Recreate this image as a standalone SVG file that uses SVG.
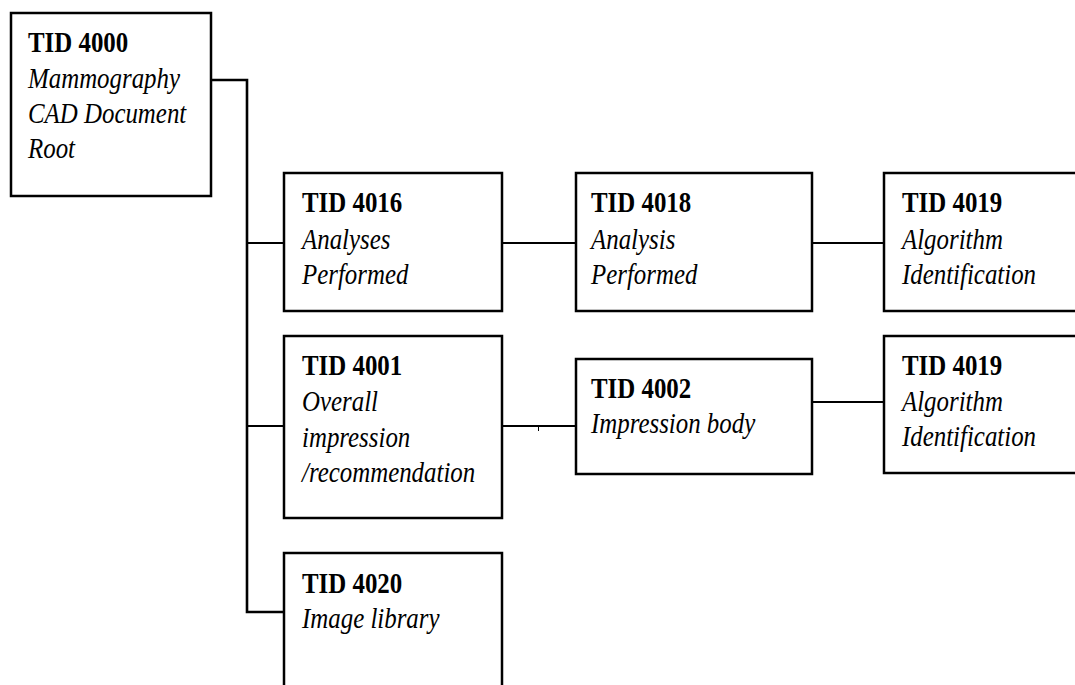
<svg xmlns="http://www.w3.org/2000/svg" width="1075" height="685" viewBox="0 0 1075 685">
<style>
.box{fill:#fff;stroke:#000;stroke-width:2.5}
.c{fill:none;stroke:#000;stroke-width:2}
.trunk{fill:none;stroke:#000;stroke-width:2.6}
.t{font-family:"Liberation Serif","Times New Roman",serif;font-size:30px;fill:#000}
.b{font-weight:bold}
.i{font-style:italic}
</style>
<rect width="1075" height="685" fill="#fff"/>
<g id="connectors">
<polyline class="trunk" points="211,80 247,80 247,612 284,612"/>
<line class="c" x1="247" y1="243" x2="284" y2="243"/>
<line class="c" x1="247" y1="426" x2="284" y2="426"/>
<line class="c" x1="502" y1="243" x2="576" y2="243"/>
<line class="c" x1="812" y1="243" x2="884" y2="243"/>
<line class="c" x1="502" y1="426" x2="576" y2="426"/>
<line class="c" x1="812" y1="402" x2="884" y2="402"/>
<line stroke="#000" stroke-width="1" x1="538.5" y1="426" x2="538.5" y2="431"/>
</g>
<g id="tid4000">
<rect class="box" x="11" y="13" width="200" height="183"/>
<g class="t" transform="translate(28 0) scale(0.83 1)">
<text class="b" x="0" y="52">TID 4000</text>
<text class="i" x="0" y="88">Mammography</text>
<text class="i" x="0" y="123">CAD Document</text>
<text class="i" x="0" y="158">Root</text>
</g>
</g>
<g id="tid4016">
<rect class="box" x="284" y="173" width="218" height="138"/>
<g class="t" transform="translate(302 0) scale(0.83 1)">
<text class="b" x="0" y="212">TID 4016</text>
<text class="i" x="0" y="249">Analyses</text>
<text class="i" x="0" y="284">Performed</text>
</g>
</g>
<g id="tid4018">
<rect class="box" x="576" y="173" width="236" height="138"/>
<g class="t" transform="translate(591 0) scale(0.83 1)">
<text class="b" x="0" y="212">TID 4018</text>
<text class="i" x="0" y="249">Analysis</text>
<text class="i" x="0" y="284">Performed</text>
</g>
</g>
<g id="tid4019a">
<rect class="box" x="884" y="173" width="210" height="138"/>
<g class="t" transform="translate(902 0) scale(0.83 1)">
<text class="b" x="0" y="212">TID 4019</text>
<text class="i" x="0" y="249">Algorithm</text>
<text class="i" x="0" y="284">Identification</text>
</g>
</g>
<g id="tid4001">
<rect class="box" x="284" y="336" width="218" height="182"/>
<g class="t" transform="translate(302 0) scale(0.83 1)">
<text class="b" x="0" y="375">TID 4001</text>
<text class="i" x="0" y="411">Overall</text>
<text class="i" x="0" y="447">impression</text>
<text class="i" x="0" y="482">/recommendation</text>
</g>
</g>
<g id="tid4002">
<rect class="box" x="576" y="359" width="236" height="115"/>
<g class="t" transform="translate(591 0) scale(0.83 1)">
<text class="b" x="0" y="398">TID 4002</text>
<text class="i" x="0" y="433">Impression body</text>
</g>
</g>
<g id="tid4019b">
<rect class="box" x="884" y="336" width="210" height="137"/>
<g class="t" transform="translate(902 0) scale(0.83 1)">
<text class="b" x="0" y="375">TID 4019</text>
<text class="i" x="0" y="411">Algorithm</text>
<text class="i" x="0" y="446">Identification</text>
</g>
</g>
<g id="tid4020">
<rect class="box" x="284" y="553" width="218" height="160"/>
<g class="t" transform="translate(302 0) scale(0.83 1)">
<text class="b" x="0" y="593">TID 4020</text>
<text class="i" x="0" y="628">Image library</text>
</g>
</g>
</svg>
